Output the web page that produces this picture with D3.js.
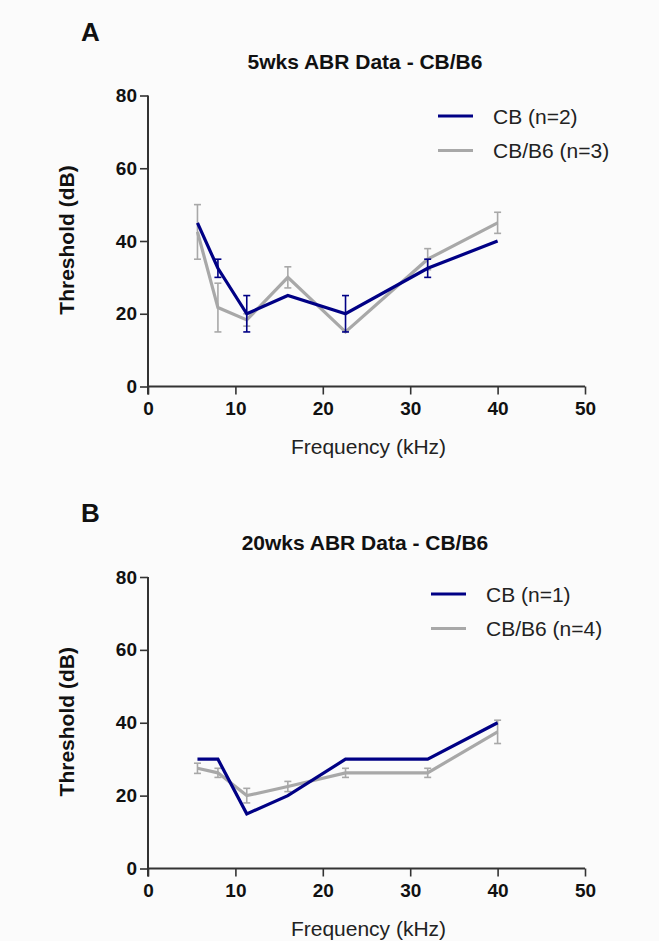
<!DOCTYPE html>
<html>
<head>
<meta charset="utf-8">
<script src="https://cdn.jsdelivr.net/npm/d3@7"></script>
<style>
  body { margin: 0; background: #fbfbfb; }
  svg { display: block; font-family: "Liberation Sans", Arial, sans-serif; }
</style>
</head>
<body>
<div id="chart"></div>
<script>
// frequencies tested (kHz)
const freqs = [5.66, 8, 11.3, 16, 22.6, 32, 40];

// 5 weeks
const cb5 = [45, 32.5, 20, 25, 20, 32.5, 40];
const cb5Err = [0, 2.5, 5, 0, 5, 2.5, 0];
const cbb6_5 = [42.5, 21.7, 18.3, 30, 15, 35, 45];
const cbb6_5Err = [7.5, 6.7, 1.7, 2.9, 0, 2.9, 2.9];

// 20 weeks
const cb20 = [30, 30, 15, 20, 30, 30, 40];
const cb20Err = [0, 0, 0, 0, 0, 0, 0];
const cbb6_20 = [27.5, 26.25, 20, 22.5, 26.25, 26.25, 37.5];
const cbb6_20Err = [1.4, 1.25, 2, 1.4, 1.25, 1.25, 3.2];

const xTicks = [0, 10, 20, 30, 40, 50];
const yTicks = [0, 20, 40, 60, 80];

const blue = "#000085";
const grey = "#a8a8a8";

const width = 659, height = 941;
const svg = d3.select("#chart").append("svg")
  .attr("width", width).attr("height", height);

svg.append("rect").attr("width", width).attr("height", height).attr("fill", "#fbfbfb");

const panels = [
  {
    letter: "A", title: "5wks ABR Data - CB/B6", top: 0,
    yRange: [386.5, 95.5],
    series: [
      { name: "CB/B6 (n=3)", vals: cbb6_5, err: cbb6_5Err, color: grey },
      { name: "CB (n=2)", vals: cb5, err: cb5Err, color: blue }
    ],
    legend: { x: 438, y: 116 }
  },
  {
    letter: "B", title: "20wks ABR Data - CB/B6", top: 481,
    yRange: [868.5, 577],
    series: [
      { name: "CB/B6 (n=4)", vals: cbb6_20, err: cbb6_20Err, color: grey },
      { name: "CB (n=1)", vals: cb20, err: cb20Err, color: blue }
    ],
    legend: { x: 431, y: 594 }
  }
];

const x = d3.scaleLinear().domain([0, 50]).range([148, 585]);

panels.forEach(function (p) {
  const y = d3.scaleLinear().domain([0, 80]).range(p.yRange);
  const g = svg.append("g");

  g.append("text").attr("x", 81).attr("y", p.top + 41)
    .attr("font-size", 26).attr("font-weight", "bold").attr("fill", "#111").text(p.letter);

  g.append("text").attr("x", 365).attr("y", p.top + 68.5)
    .attr("text-anchor", "middle").attr("font-size", 21).attr("font-weight", "bold")
    .attr("fill", "#111").text(p.title);

  // axes
  const yAxis = g.append("g")
    .attr("transform", "translate(" + x(0) + ",0)")
    .call(d3.axisLeft(y).tickValues(yTicks).tickSize(8).tickPadding(3));
  const xAxis = g.append("g")
    .attr("transform", "translate(0," + y(0) + ")")
    .call(d3.axisBottom(x).tickValues(xTicks).tickSize(8).tickPadding(7));

  [yAxis, xAxis].forEach(function (a) {
    a.select(".domain").attr("stroke", "#333").attr("stroke-width", 2)
    a.selectAll(".tick line").attr("stroke", "#333").attr("stroke-width", 1.6);
    a.selectAll(".tick text").attr("fill", "#111").attr("font-size", 19)
      .attr("font-weight", "bold").attr("font-family", "Liberation Sans, Arial, sans-serif");
  });
  // no outer tick brackets
  yAxis.select(".domain").attr("d", "M0," + p.yRange[1] + "V" + (p.yRange[0] + 8));
  xAxis.select(".domain").attr("d", "M" + x(0) + ",0H" + x(50));

  g.append("text")
    .attr("transform", "translate(74," + (y(40) - 1) + ") rotate(-90)")
    .attr("text-anchor", "middle").attr("font-size", 21).attr("font-weight", "bold")
    .attr("fill", "#111").text("Threshold (dB)");

  g.append("text").attr("x", x(25) + 2).attr("y", y(0) + 67)
    .attr("text-anchor", "middle").attr("font-size", 21).attr("fill", "#222")
    .text("Frequency (kHz)");

  const line = d3.line().x(function (d) { return x(d[0]); }).y(function (d) { return y(d[1]); });

  p.series.forEach(function (s) {
    const pts = freqs.map(function (f, i) { return [f, s.vals[i], s.err[i]]; });

    const eb = g.append("g").attr("stroke", s.color).attr("stroke-width", 1.6);
    pts.filter(function (d) { return d[2] > 0; }).forEach(function (d) {
      const cx = x(d[0]), y1 = y(d[1] + d[2]), y2 = y(d[1] - d[2]);
      eb.append("line").attr("x1", cx).attr("x2", cx).attr("y1", y1).attr("y2", y2);
      eb.append("line").attr("x1", cx - 3.5).attr("x2", cx + 3.5).attr("y1", y1).attr("y2", y1);
      eb.append("line").attr("x1", cx - 3.5).attr("x2", cx + 3.5).attr("y1", y2).attr("y2", y2);
    });

    g.append("path").datum(pts).attr("d", line)
      .attr("fill", "none").attr("stroke", s.color).attr("stroke-width", 3.2)
      .attr("stroke-linejoin", "miter");
  });

  // legend: CB first, then CB/B6
  const legendItems = p.series.slice().reverse();
  legendItems.forEach(function (s, i) {
    const ly = p.legend.y + i * 34.5;
    g.append("line").attr("x1", p.legend.x).attr("x2", p.legend.x + 35)
      .attr("y1", ly).attr("y2", ly).attr("stroke", s.color).attr("stroke-width", 3);
    g.append("text").attr("x", p.legend.x + 55).attr("y", ly + 7.5)
      .attr("font-size", 21).attr("fill", "#222").text(s.name);
  });
});
</script>
</body>
</html>
